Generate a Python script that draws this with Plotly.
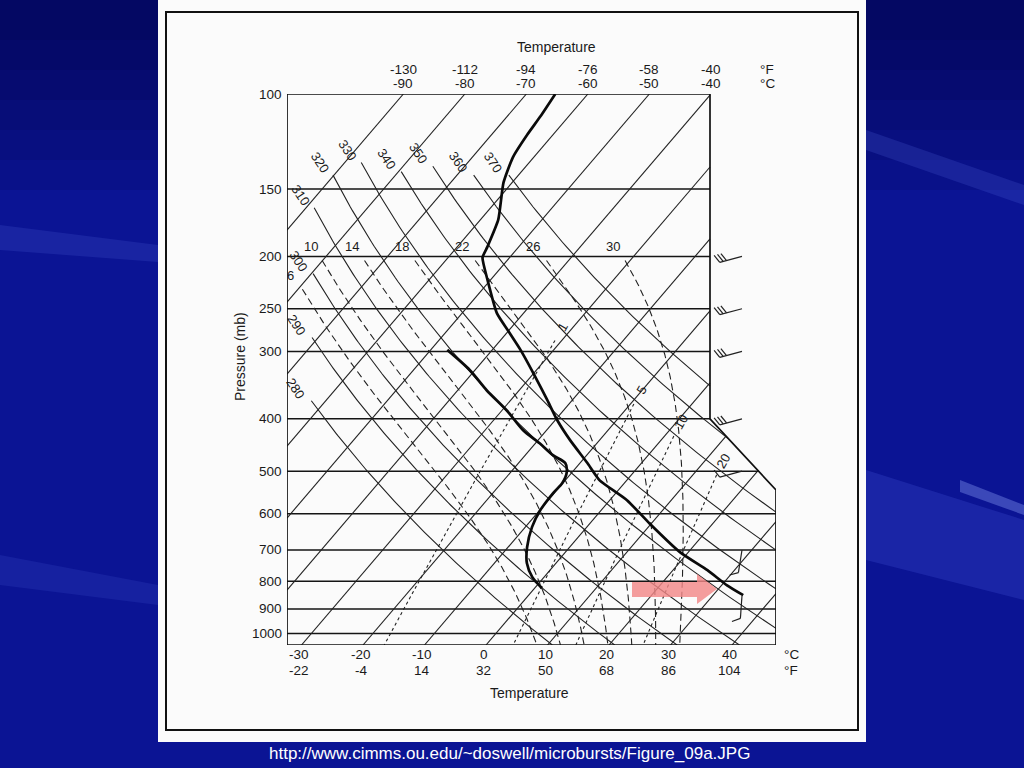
import numpy as np
import plotly.graph_objects as go

# ---------------- data ----------------
pressure_ticks = [100, 150, 200, 250, 300, 400, 500, 600, 700, 800, 900, 1000]
isobar_levels = [150, 200, 250, 300, 400, 500, 600, 700, 800, 900, 1000]
isotherm_values = [-90, -80, -70, -60, -50, -40, -30, -20, -10, 0, 10, 20, 30, 40, 50]
top_c = [-90, -80, -70, -60, -50, -40]
top_f = ["-130", "-112", "-94", "-76", "-58", "-40"]
bottom_c = [-30, -20, -10, 0, 10, 20, 30, 40]
bottom_f = ["-22", "-4", "14", "32", "50", "68", "86", "104"]
theta_values = [280, 290, 300, 310, 320, 330, 340, 350, 360, 370]
thetaw_values = [6, 10, 14, 18, 22, 26, 30]
mixing_values = [1, 5, 10, 20]

temp_p = [100, 110, 119, 131, 146, 171, 192, 201, 221, 255, 274, 298, 329, 369, 402,
          438, 483, 520, 566, 625, 707, 763, 814, 849]
temp_T = [-65.3, -64.6, -64.2, -63.4, -61.4, -57.1, -55.1, -54.4, -50.5, -44.3, -40.2,
          -35.4, -30.1, -24.1, -19.7, -14.8, -8.8, -4.4, 2.8, 9.7, 18.7, 25.6, 30.9, 34.9]
dew_p = [298, 325, 354, 386, 420, 444, 467, 483, 502, 526, 549, 591, 635, 692, 741, 786, 824]
dew_T = [-47.3, -40.8, -35.3, -29.2, -23.8, -19.3, -15.5, -12.4, -10.9, -10.1, -10.2,
         -9.9, -8.9, -6.9, -4.7, -1.9, 1.2]

wind_p = [200, 250, 300, 400, 500, 700, 850]
wind_dir = [255, 255, 255, 255, 255, 189, 184]
wind_kt = [30, 30, 30, 30, 10, 10, 10]

# ---------------- geometry (layout) ----------------
W, H = 1024, 768
PL, PR, PT, PB = 287, 776, 94, 645
P_TOP, P_BOT = 100.0, 1050.0
X_LEFT, X_RIGHT = -32.36, 47.15
K_SKEW = 32.56
SX = (PR - PL) / (X_RIGHT - X_LEFT)
LNR = np.log(P_BOT / P_TOP)


def skewx(T, p):
    return np.asarray(T) + K_SKEW * np.log(P_BOT / np.asarray(p))


def px_data(x, y):
    X = X_LEFT + (x - PL) / SX
    p = P_TOP * np.exp((y - PT) / (PB - PT) * LNR)
    return X, p


def data_px(X, p):
    return PL + (X - X_LEFT) * SX, PT + np.log(p / P_TOP) / LNR * (PB - PT)


def pp(x, y):
    return (x - PL) / (PR - PL), (PB - y) / (PB - PT)


X_UR = px_data(710, 0)[0]
P_C2 = px_data(776, 490)[1]
poly = [(X_LEFT, np.log(P_BOT)), (X_LEFT, np.log(P_TOP)), (X_UR, np.log(P_TOP)),
        (X_UR, np.log(400.0)), (X_RIGHT, np.log(P_C2)), (X_RIGHT, np.log(P_BOT))]


def inside(u, v):
    c = False
    n = len(poly)
    for i in range(n):
        u1, v1 = poly[i]
        u2, v2 = poly[(i + 1) % n]
        if (v1 > v) != (v2 > v):
            xi = u1 + (v - v1) * (u2 - u1) / (v2 - v1)
            if u < xi:
                c = not c
    return c


def clip(us, vs):
    ou, ov = [], []
    last = None
    n = len(poly)
    for i in range(len(us) - 1):
        a0, a1 = us[i], vs[i]
        du, dv = us[i + 1] - a0, vs[i + 1] - a1
        ts = [0.0, 1.0]
        for j in range(n):
            c0, c1 = poly[j]
            d0, d1 = poly[(j + 1) % n]
            eu, ev = d0 - c0, d1 - c1
            den = du * ev - dv * eu
            if abs(den) < 1e-12:
                continue
            t = ((c0 - a0) * ev - (c1 - a1) * eu) / den
            s = ((c0 - a0) * dv - (c1 - a1) * du) / den
            if 0 < t < 1 and -1e-9 <= s <= 1 + 1e-9:
                ts.append(t)
        ts.sort()
        for t0, t1 in zip(ts[:-1], ts[1:]):
            if t1 - t0 < 1e-10:
                continue
            tm = 0.5 * (t0 + t1)
            if inside(a0 + tm * du, a1 + tm * dv):
                p0 = (a0 + t0 * du, a1 + t0 * dv)
                p1 = (a0 + t1 * du, a1 + t1 * dv)
                if last is None or abs(last[0] - p0[0]) > 1e-9 or abs(last[1] - p0[1]) > 1e-9:
                    if ou:
                        ou.append(None)
                        ov.append(None)
                    ou.append(p0[0])
                    ov.append(p0[1])
                ou.append(p1[0])
                ov.append(p1[1])
                last = p1
            else:
                last = None
    return ou, ov


def collect(lines):
    xs, ys = [], []
    for X, p in lines:
        u, v = clip(list(X), list(np.log(p)))
        if not u:
            continue
        if xs:
            xs.append(None)
            ys.append(None)
        xs += u
        ys += [None if q is None else float(np.exp(q)) for q in v]
    return xs, ys


# ---------------- thermodynamics ----------------
Rd, CP, LV, EPS = 287.04, 1005.7, 2.501e6, 0.622


def es(tc):
    return 6.112 * np.exp(17.67 * tc / (tc + 243.5))


def dTdlnp(T, lnp):
    p = np.exp(lnp)
    e = es(T - 273.15)
    r = EPS * e / (p - e)
    return (Rd * T + LV * r) / (CP + LV * LV * r * EPS / (Rd * T * T))


def integrate(T0, lnps):
    out = [T0]
    T = T0
    for i in range(len(lnps) - 1):
        h = lnps[i + 1] - lnps[i]
        x = lnps[i]
        k1 = dTdlnp(T, x)
        k2 = dTdlnp(T + h * k1 / 2, x + h / 2)
        k3 = dTdlnp(T + h * k2 / 2, x + h / 2)
        k4 = dTdlnp(T + h * k3, x + h)
        T = T + h * (k1 + 2 * k2 + 2 * k3 + k4) / 6
        out.append(T)
    return np.array(out)


def moist(thw, p_start):
    up = np.linspace(np.log(1000.0), np.log(p_start), 400)
    dn = np.linspace(np.log(1000.0), np.log(P_BOT), 20)
    Tu = integrate(thw + 273.15, up)[::-1]
    Td = integrate(thw + 273.15, dn)[1:]
    lnp = np.concatenate([up[::-1], dn[1:]])
    T = np.concatenate([Tu, Td]) - 273.15
    return T, np.exp(lnp)


def w_temp(w, p):
    e = w * p / (622.0 + w)
    a = np.log(e / 6.112)
    return 243.5 * a / (17.67 - a)


# ---------------- build background lines ----------------
traces = []
LINE = "#222222"
LW = 1.1
FONT = "Liberation Sans, Arial, sans-serif"
CEN = dict(xanchor="center", yanchor="middle", showarrow=False)

# isobars
lines = [(np.array([X_LEFT, X_RIGHT]), np.array([lev, lev], dtype=float)) for lev in isobar_levels]
xs, ys = collect(lines)
traces.append(go.Scatter(x=xs, y=ys, mode="lines", line=dict(color="#151515", width=1.5)))

# isotherms
lines = []
for t in isotherm_values:
    pr = np.array([P_BOT, P_TOP])
    lines.append((skewx([t, t], pr), pr))
xs, ys = collect(lines)
traces.append(go.Scatter(x=xs, y=ys, mode="lines", line=dict(color=LINE, width=LW)))

# dry adiabats
theta_label_p = {280: 351, 290: 268, 300: 204, 310: 154, 320: 134, 330: 127,
                 340: 132, 350: 129, 360: 134, 370: 134}
lines = []
annots = []
LBL = dict(family=FONT, size=13, color="#1a1a1a")
for th in theta_values:
    p0 = theta_label_p[th]
    pr = np.exp(np.linspace(np.log(p0 * 1.055), np.log(P_BOT), 120))
    T = th * (pr / 1000.0) ** 0.2857 - 273.15
    lines.append((skewx(T, pr), pr))
    Tl = th * (p0 / 1000.0) ** 0.2857 - 273.15
    annots.append(dict(x=float(skewx(Tl, p0)) - 1.1, y=float(np.log10(p0)), xref="x", yref="y",
                       text=str(th), textangle=56, font=LBL, **CEN))
xs, ys = collect(lines)
traces.append(go.Scatter(x=xs, y=ys, mode="lines", line=dict(color=LINE, width=LW)))

# moist adiabats
lines = []
for thw in thetaw_values:
    pl = 217.0 if thw == 6 else 192.0
    ps = pl * 1.06
    T, pr = moist(thw, ps)
    lines.append((skewx(T, pr), pr))
    Tl, _ = moist(thw, pl)
    annots.append(dict(x=float(skewx(Tl[0], pl)) - 0.6, y=float(np.log10(pl)), xref="x", yref="y",
                       text=str(thw), font=LBL, **CEN))
xs, ys = collect(lines)
traces.append(go.Scatter(x=xs, y=ys, mode="lines",
                         line=dict(color=LINE, width=LW, dash="7px,4px")))

# saturation mixing ratio lines
mix_label_p = {1: 270, 5: 354, 10: 406, 20: 479}
lines = []
for w in mixing_values:
    pl = mix_label_p[w]
    pr = np.exp(np.linspace(np.log(pl * 1.06), np.log(P_BOT), 80))
    lines.append((skewx(w_temp(w, pr), pr), pr))
    annots.append(dict(x=float(skewx(w_temp(w, pl), pl)), y=float(np.log10(pl)), xref="x", yref="y",
                       text=str(w), textangle=-60, font=LBL, **CEN))
xs, ys = collect(lines)
traces.append(go.Scatter(x=xs, y=ys, mode="lines",
                         line=dict(color=LINE, width=LW, dash="3px,3px")))

# outline
ox = [q[0] for q in poly] + [poly[0][0]]
oy = [float(np.exp(q[1])) for q in poly] + [float(np.exp(poly[0][1]))]
traces.append(go.Scatter(x=ox, y=oy, mode="lines", line=dict(color="#111111", width=1.7)))

# sounding
traces.append(go.Scatter(x=skewx(temp_T, temp_p), y=temp_p, mode="lines",
                         line=dict(color="#0a0a0a", width=2.7, shape="spline", smoothing=0.5)))
traces.append(go.Scatter(x=skewx(dew_T, dew_p), y=dew_p, mode="lines",
                         line=dict(color="#0a0a0a", width=2.7, shape="spline", smoothing=0.8)))

# wind barbs
STATION_PX = 742
bx, by = [], []
for p, d, s in zip(wind_p, wind_dir, wind_kt):
    sx0, sy0 = STATION_PX, data_px(0, p)[1]
    L = 23.0
    ux, uy = np.sin(np.radians(d)), -np.cos(np.radians(d))
    ex, ey = sx0 + L * ux, sy0 + L * uy
    a = np.radians(66)
    fx, fy = np.cos(a) * ux - np.sin(a) * uy, np.sin(a) * ux + np.cos(a) * uy
    segs = [[(sx0, sy0), (ex, ey)]]
    for k in range(int(s // 10)):
        qx, qy = ex - 3.5 * k * ux, ey - 3.5 * k * uy
        segs.append([(qx, qy), (qx + 9 * fx, qy + 9 * fy)])
    for seg in segs:
        for (x, y) in seg:
            X, pv = px_data(x, y)
            bx.append(float(X))
            by.append(float(pv))
        bx.append(None)
        by.append(None)
traces.append(go.Scatter(x=bx, y=by, mode="lines", line=dict(color="#222222", width=1.2)))

for t in traces:
    t.update(hoverinfo="skip", showlegend=False, cliponaxis=False)

fig = go.Figure(traces)

# ---------------- text ----------------
TXT = dict(family=FONT, size=13.5, color="#1a1a1a")
for p in pressure_ticks:
    annots.append(dict(x=pp(284, 0)[0], y=float(np.log10(p)), xref="paper", yref="y",
                       text=str(p), showarrow=False, xanchor="right", yanchor="middle", font=TXT))
for c, f in zip(top_c, top_f):
    xv = float(skewx(c, P_TOP))
    annots.append(dict(x=xv, y=pp(0, 84)[1], xref="x", yref="paper", text=str(c), font=TXT, **CEN))
    annots.append(dict(x=xv, y=pp(0, 69)[1], xref="x", yref="paper", text=f, font=TXT, **CEN))
for c, f in zip(bottom_c, bottom_f):
    annots.append(dict(x=c - 0.4, y=pp(0, 654)[1], xref="x", yref="paper", text=str(c), font=TXT, **CEN))
    annots.append(dict(x=c - 0.4, y=pp(0, 670)[1], xref="x", yref="paper", text=f, font=TXT, **CEN))
for (x, y, s) in [(767, 69, "°F"), (767, 84, "°C"), (791, 654, "°C"), (791, 670, "°F")]:
    xp, yp = pp(x, y)
    annots.append(dict(x=xp, y=yp, xref="paper", yref="paper", text=s, font=TXT, **CEN))
for (x, y) in [(556, 47), (529, 693)]:
    xp, yp = pp(x, y)
    annots.append(dict(x=xp, y=yp, xref="paper", yref="paper", text="Temperature",
                       font=dict(TXT, size=14), **CEN))
xp, yp = pp(240, 357)
annots.append(dict(x=xp, y=yp, xref="paper", yref="paper", text="Pressure (mb)",
                   textangle=-90, font=dict(TXT, size=14), **CEN))
xp, yp = pp(509, 753)
annots.append(dict(x=xp, y=yp, xref="paper", yref="paper",
                   text="http://www.cimms.ou.edu/~doswell/microbursts/Figure_09a.JPG",
                   font=dict(family=FONT, size=17, color="#ffffff"), **CEN))

# ---------------- shapes ----------------
shapes = []


def prect(x0, y0, x1, y1, **kw):
    a, b = pp(x0, y1)
    c, d = pp(x1, y0)
    return dict(type="rect", xref="paper", yref="paper", x0=a, y0=b, x1=c, y1=d, **kw)


def ppath(points, **kw):
    s = ""
    for i, (x, y) in enumerate(points):
        a, b = pp(x, y)
        s += ("M" if i == 0 else "L") + f"{a:.5f},{b:.5f} "
    return dict(type="path", xref="paper", yref="paper", path=s + "Z", **kw)


# slide background (soft darkening at top + streaks)
for k in range(6):
    shapes.append(prect(0, 0, 1024, 40 + 30 * k, fillcolor="rgba(0,0,50,0.10)",
                        line=dict(width=0), layer="below"))
for pts, col in [
    ([(0, 225), (158, 245), (158, 262), (0, 250)], "rgba(90,110,230,0.18)"),
    ([(0, 555), (158, 585), (158, 605), (0, 585)], "rgba(90,110,230,0.15)"),
    ([(866, 130), (1024, 185), (1024, 205), (866, 150)], "rgba(90,110,230,0.20)"),
    ([(866, 470), (1024, 520), (1024, 600), (866, 560)], "rgba(80,100,230,0.22)"),
    ([(960, 480), (1024, 505), (1024, 515), (960, 492)], "rgba(150,170,255,0.35)"),
]:
    shapes.append(ppath(pts, fillcolor=col, line=dict(width=0), layer="below"))

shapes.append(prect(158, 0, 866, 742, fillcolor="#fbfbfb", line=dict(width=0), layer="below"))
shapes.append(prect(166, 12, 858, 730, fillcolor="rgba(0,0,0,0)",
                    line=dict(color="#111111", width=2), layer="below"))
# pink arrow
shapes.append(ppath([(632, 582), (697, 582), (697, 574), (717, 589), (697, 604), (697, 597), (632, 597)],
                    fillcolor="rgba(242,135,135,0.82)", line=dict(width=0), layer="above"))

fig.update_layout(
    width=W, height=H, autosize=False,
    margin=dict(l=PL, r=W - PR, t=PT, b=H - PB, pad=0),
    paper_bgcolor="#0b1494", plot_bgcolor="rgba(0,0,0,0)",
    xaxis=dict(range=[X_LEFT, X_RIGHT], visible=False, fixedrange=True),
    yaxis=dict(type="log", range=[np.log10(P_BOT), np.log10(P_TOP)], visible=False, fixedrange=True),
    annotations=annots, shapes=shapes, showlegend=False,
)

fig.write_html("out.html", config={"displayModeBar": False, "staticPlot": True},
               post_script="document.body.style.margin='0';document.body.style.overflow='hidden';")
